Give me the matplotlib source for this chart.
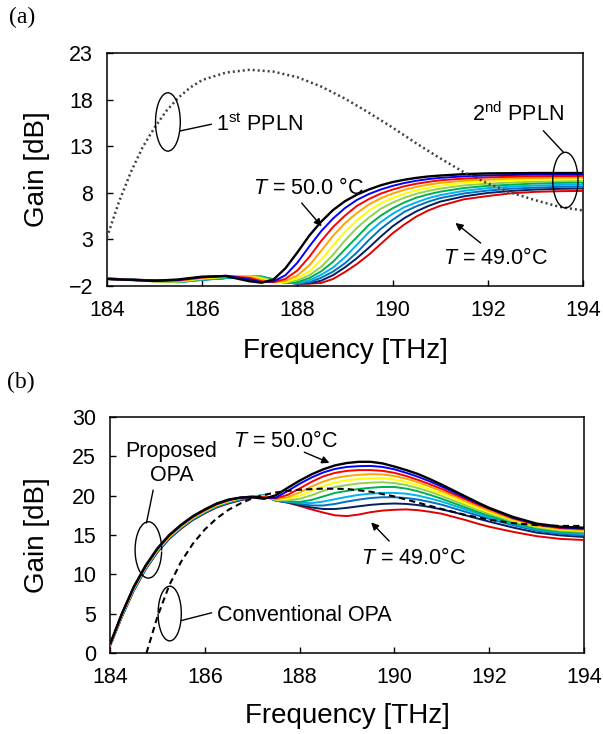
"""
Gain spectra vs temperature: (a) cascaded PPLN stages, (b) proposed vs conventional OPA.
Writes out.png (603 x 734 px).
"""

import matplotlib
matplotlib.use("Agg")
import matplotlib.pyplot as plt
from matplotlib.patches import Ellipse, Arc

plt.rcParams["font.family"] = "Liberation Sans"
plt.rcParams["mathtext.fontset"] = "custom"
plt.rcParams["mathtext.rm"] = "Liberation Sans"
plt.rcParams["mathtext.it"] = "Liberation Sans:italic"
plt.rcParams["axes.unicode_minus"] = True

# ── Data ─────────────────────────────────────────────────────────────────────

TEMPS = [50.0, 49.9, 49.8, 49.7, 49.6, 49.5, 49.4, 49.3, 49.2, 49.1, 49.0]
COLORS = ["#000000", "#0000FF", "#FF0000", "#FFA500", "#FFFF00", "#92D050",
          "#00B050", "#00B0F0", "#0070C0", "#002060", "#E00000"]

# (a) 2nd PPLN gain for each temperature
freq_a = [184, 184.5, 185, 185.5, 186, 186.5, 187, 187.25, 187.5, 187.75,
          188, 188.25, 188.5, 188.75, 189, 189.25, 189.5, 189.75, 190, 190.25,
          190.5, 190.75, 191, 191.5, 192, 192.5, 193, 193.5, 194]
gain_a = [
    [-1.25, -1.35, -1.45, -1.3, -1.0, -0.95, -1.5, -1.65, -1.3, -0.1,
     1.6, 3.4, 4.9, 6.15, 7.1, 7.8, 8.35, 8.8, 9.15, 9.4,
     9.6, 9.75, 9.85, 10.0, 10.08, 10.1, 10.12, 10.12, 10.12],
    [-1.25, -1.35, -1.45, -1.35, -1.05, -0.9, -1.3, -1.6, -1.5, -0.85,
     0.5, 2.24, 3.88, 5.24, 6.36, 7.23, 7.86, 8.35, 8.74, 9.05,
     9.29, 9.47, 9.6, 9.76, 9.86, 9.91, 9.96, 9.97, 9.98],
    [-1.25, -1.35, -1.45, -1.4, -1.1, -0.9, -1.15, -1.5, -1.6, -1.24,
     -0.34, 1.11, 2.83, 4.33, 5.55, 6.59, 7.32, 7.91, 8.34, 8.7,
     8.97, 9.17, 9.34, 9.52, 9.65, 9.72, 9.77, 9.79, 9.8],
    [-1.25, -1.35, -1.5, -1.45, -1.15, -0.95, -1.0, -1.35, -1.6, -1.45,
     -0.87, 0.21, 1.78, 3.39, 4.74, 5.83, 6.74, 7.4, 7.92, 8.32,
     8.63, 8.87, 9.06, 9.29, 9.42, 9.52, 9.58, 9.61, 9.63],
    [-1.25, -1.35, -1.5, -1.5, -1.2, -1.0, -0.95, -1.2, -1.55, -1.6,
     -1.14, -0.44, 0.82, 2.36, 3.82, 5.04, 6.07, 6.87, 7.44, 7.9,
     8.26, 8.53, 8.76, 9.06, 9.2, 9.32, 9.4, 9.43, 9.45],
    [-1.25, -1.35, -1.5, -1.55, -1.25, -1.05, -0.95, -1.1, -1.45, -1.65,
     -1.4, -0.85, 0.05, 1.35, 2.88, 4.23, 5.33, 6.28, 6.94, 7.48,
     7.89, 8.2, 8.45, 8.79, 8.98, 9.1, 9.2, 9.25, 9.28],
    [-1.25, -1.35, -1.5, -1.6, -1.3, -1.1, -0.95, -1.0, -1.35, -1.7,
     -1.6, -1.15, -0.43, 0.6, 1.93, 3.24, 4.55, 5.54, 6.34, 6.97,
     7.48, 7.83, 8.12, 8.51, 8.74, 8.87, 9.0, 9.06, 9.1],
    [-1.25, -1.35, -1.5, -1.6, -1.35, -1.15, -1.0, -1.0, -1.3, -1.65,
     -1.72, -1.4, -0.8, -0.02, 1.09, 2.43, 3.75, 4.85, 5.74, 6.46,
     6.97, 7.42, 7.75, 8.21, 8.5, 8.66, 8.78, 8.84, 8.88],
    [-1.2, -1.3, -1.45, -1.55, -1.35, -1.15, -1.0, -1.0, -1.3, -1.6,
     -1.74, -1.6, -1.12, -0.46, 0.44, 1.59, 2.92, 4.12, 5.1, 5.96,
     6.55, 7.04, 7.43, 7.93, 8.24, 8.44, 8.56, 8.63, 8.67],
    [-1.2, -1.3, -1.4, -1.5, -1.3, -1.15, -1.05, -1.05, -1.3, -1.6,
     -1.75, -1.72, -1.43, -0.84, 0.0, 0.98, 2.1, 3.29, 4.4, 5.29,
     6.01, 6.58, 7.05, 7.62, 7.98, 8.2, 8.35, 8.42, 8.46],
    [-1.2, -1.3, -1.4, -1.5, -1.3, -1.15, -1.1, -1.1, -1.35, -1.6,
     -1.75, -1.75, -1.68, -1.25, -0.5, 0.35, 1.35, 2.5, 3.65, 4.6,
     5.45, 6.1, 6.6, 7.3, 7.65, 7.95, 8.1, 8.17, 8.2],
]

# (a) 1st PPLN gain (dotted)
freq_ppln1 = [184.0, 184.25, 184.5, 184.75, 185.0, 185.25, 185.5, 185.75, 186.0,
              186.5, 187.0, 187.5, 188.0, 188.5, 189.0, 189.5, 190.0, 190.5,
              191.0, 191.5, 192.0, 192.5, 193.0, 193.5, 194.0]
gain_ppln1 = [3.2, 7.0, 10.2, 12.9, 15.0, 16.8, 18.2, 19.3, 20.1,
              20.9, 21.2, 21.0, 20.4, 19.4, 18.1, 16.6, 15.0, 13.3,
              11.7, 10.2, 9.0, 8.0, 7.2, 6.5, 6.1]

# (b) proposed OPA gain for each temperature
freq_b = [184, 184.25, 184.5, 184.75, 185, 185.25, 185.5, 185.75, 186, 186.25,
          186.5, 186.75, 187, 187.25, 187.5, 187.75, 188, 188.25, 188.5, 188.75,
          189, 189.25, 189.5, 189.75, 190, 190.25, 190.5, 190.75, 191, 191.25,
          191.5, 191.75, 192, 192.5, 193, 193.5, 194]
gain_b = [
    [1.1, 5.0, 8.4, 11.1, 13.3, 15.0, 16.3, 17.4, 18.25, 19.0,
     19.5, 19.75, 19.8, 19.6, 20.05, 21.0, 21.9, 22.7, 23.35, 23.85,
     24.15, 24.3, 24.3, 24.1, 23.7, 23.25, 22.75, 22.1, 21.4, 20.65,
     19.9, 19.15, 18.45, 17.3, 16.45, 16.05, 15.92],
    [1.1, 4.95, 8.35, 11.05, 13.25, 14.95, 16.25, 17.35, 18.2, 18.95,
     19.45, 19.75, 19.85, 19.7, 19.75, 20.6, 21.5, 22.3, 22.95, 23.4,
     23.65, 23.75, 23.78, 23.65, 23.35, 22.9, 22.4, 21.8, 21.15, 20.45,
     19.75, 19.05, 18.4, 17.2, 16.38, 15.97, 15.83],
    [1.05, 4.9, 8.3, 11.0, 13.2, 14.9, 16.2, 17.3, 18.15, 18.9,
     19.4, 19.75, 19.9, 19.8, 19.65, 20.1, 20.9, 21.75, 22.45, 22.9,
     23.15, 23.25, 23.25, 23.15, 22.9, 22.5, 22.0, 21.45, 20.85, 20.2,
     19.55, 18.9, 18.3, 17.12, 16.3, 15.88, 15.75],
    [1.05, 4.85, 8.25, 10.95, 13.15, 14.85, 16.15, 17.25, 18.1, 18.85,
     19.35, 19.72, 19.95, 19.85, 19.55, 19.8, 20.4, 21.15, 21.8, 22.25,
     22.5, 22.65, 22.73, 22.7, 22.5, 22.15, 21.7, 21.15, 20.55, 19.95,
     19.3, 18.7, 18.1, 17.0, 16.2, 15.78, 15.62],
    [1.0, 4.8, 8.2, 10.9, 13.1, 14.8, 16.1, 17.2, 18.05, 18.8,
     19.3, 19.7, 19.95, 19.9, 19.5, 19.6, 20.0, 20.6, 21.2, 21.7,
     21.95, 22.12, 22.2, 22.22, 22.05, 21.75, 21.3, 20.8, 20.25, 19.65,
     19.05, 18.45, 17.9, 16.88, 16.1, 15.68, 15.54],
    [1.0, 4.75, 8.15, 10.85, 13.05, 14.75, 16.05, 17.15, 18.0, 18.75,
     19.25, 19.65, 19.95, 19.95, 19.45, 19.4, 19.6, 20.05, 20.6, 21.1,
     21.35, 21.55, 21.65, 21.7, 21.6, 21.35, 20.95, 20.5, 19.95, 19.35,
     18.8, 18.2, 17.7, 16.72, 15.97, 15.56, 15.41],
    [0.95, 4.7, 8.1, 10.8, 13.0, 14.7, 16.0, 17.1, 17.95, 18.7,
     19.2, 19.6, 19.95, 20.0, 19.4, 19.3, 19.2, 19.45, 19.9, 20.35,
     20.6, 20.85, 21.0, 21.1, 21.1, 20.9, 20.55, 20.1, 19.6, 19.05,
     18.5, 17.95, 17.45, 16.55, 15.83, 15.43, 15.28],
    [0.95, 4.7, 8.05, 10.75, 12.95, 14.65, 15.95, 17.05, 17.9, 18.65,
     19.15, 19.55, 19.9, 20.05, 19.35, 19.25, 19.1, 19.05, 19.25, 19.55,
     19.85, 20.1, 20.25, 20.35, 20.35, 20.25, 20.0, 19.65, 19.25, 18.75,
     18.25, 17.75, 17.25, 16.4, 15.7, 15.3, 15.12],
    [0.9, 4.65, 8.0, 10.7, 12.9, 14.6, 15.9, 17.0, 17.85, 18.6,
     19.1, 19.5, 19.85, 20.05, 19.35, 19.2, 18.95, 18.75, 18.75, 18.95,
     19.25, 19.5, 19.7, 19.8, 19.8, 19.7, 19.5, 19.2, 18.85, 18.4,
     17.95, 17.5, 17.05, 16.25, 15.55, 15.15, 14.95],
    [0.9, 4.6, 7.95, 10.65, 12.85, 14.55, 15.85, 16.95, 17.8, 18.55,
     19.05, 19.45, 19.8, 20.0, 19.35, 19.15, 18.8, 18.5, 18.3, 18.3,
     18.45, 18.65, 18.83, 18.95, 19.0, 18.95, 18.8, 18.55, 18.25, 17.9,
     17.5, 17.1, 16.7, 15.95, 15.3, 14.95, 14.74],
    [0.85, 4.55, 7.9, 10.6, 12.8, 14.5, 15.8, 16.9, 17.75, 18.5,
     19.0, 19.4, 19.75, 19.95, 19.4, 19.1, 18.7, 18.25, 17.85, 17.5,
     17.4, 17.6, 17.9, 18.1, 18.2, 18.25, 18.15, 17.95, 17.7, 17.3,
     16.9, 16.45, 16.05, 15.4, 14.85, 14.5, 14.36],
]

# (b) conventional OPA gain (dashed)
freq_conv = [184.77, 185.0, 185.25, 185.5, 185.75, 186.0, 186.25, 186.5, 186.75,
             187.0, 187.25, 187.5, 187.75, 188.0, 188.5, 189.0, 189.5, 190.0,
             190.5, 191.0, 191.5, 192.0, 192.5, 193.0, 193.5, 194.0]
gain_conv = [0.0, 4.6, 8.6, 11.6, 13.9, 15.7, 17.1, 18.2, 19.0,
             19.65, 20.1, 20.4, 20.6, 20.75, 20.9, 20.85, 20.5, 19.9,
             19.1, 18.3, 17.55, 16.95, 16.5, 16.25, 16.15, 16.15]

XTICKS = [184, 186, 188, 190, 192, 194]
YTICKS_A = [-2, 3, 8, 13, 18, 23]
YTICKS_B = [0, 5, 10, 15, 20, 25, 30]

ANN_SIZE = 15.5


# ── Helpers ──────────────────────────────────────────────────────────────────

def style_axes(ax, yticks):
    ax.set_xlim(184, 194)
    ax.set_ylim(yticks[0], yticks[-1])
    ax.set_xticks(XTICKS)
    ax.set_yticks(yticks)
    ax.tick_params(direction="in", length=4, width=1.0, labelsize=15.5, pad=10,
                   top=False, right=False)
    for sp in ax.spines.values():
        sp.set_linewidth(1.1)
    ax.set_xlabel("Frequency [THz]", fontsize=20)
    ax.set_ylabel("Gain [dB]", fontsize=20)


def draw_family(ax, freq, rows):
    # black (50.0 °C) ends up on top
    for k in range(len(rows) - 1, -1, -1):
        ax.plot(freq, rows[k], color=COLORS[k], lw=1.7 if k == 0 else 1.4,
                zorder=3 + (len(rows) - k) * 0.01, solid_capstyle="butt")


def arrow(ax, head, tail):
    ax.annotate("", xy=head, xytext=tail,
                arrowprops=dict(arrowstyle="-|>", color="k", lw=1.0,
                                mutation_scale=11, shrinkA=0, shrinkB=0))


def leader(ax, p0, p1):
    ax.plot([p0[0], p1[0]], [p0[1], p1[1]], color="k", lw=1.0)


# ── Figure ───────────────────────────────────────────────────────────────────

fig = plt.figure(figsize=(6.03, 7.34), dpi=100)
ax_a = fig.add_axes([0.1774, 0.6104, 0.7894, 0.3174])
ax_b = fig.add_axes([0.1824, 0.1104, 0.786, 0.3215])

# (a)
ax_a.plot(freq_ppln1, gain_ppln1, color="#404040", lw=1.8, ls=(0, (0.8, 1.2)), zorder=4)
draw_family(ax_a, freq_a, gain_a)
style_axes(ax_a, YTICKS_A)
ax_a.xaxis.set_label_coords(0.5, -0.225)
ax_a.yaxis.set_label_coords(-0.12, 0.5)

ax_a.add_patch(Ellipse((185.28, 15.6), 0.52, 6.26, fill=False, lw=1.0, zorder=5))
leader(ax_a, (185.54, 14.64), (186.19, 15.35))
ax_a.text(186.3, 15.3, r"1$^{\mathrm{st}}$ PPLN", fontsize=ANN_SIZE, ha="left", va="center")

ax_a.add_patch(Ellipse((193.63, 9.36), 0.53, 5.97, fill=False, lw=1.0, zorder=5))
leader(ax_a, (193.59, 12.34), (193.17, 14.64))
ax_a.text(192.63, 16.4, r"2$^{\mathrm{nd}}$ PPLN", fontsize=ANN_SIZE, ha="center", va="center")

ax_a.text(188.23, 8.5, r"$T$ = 50.0 °C", fontsize=ANN_SIZE, ha="center", va="center")
arrow(ax_a, (188.51, 4.4), (188.09, 6.9))
ax_a.text(192.16, 1.0, r"$T$ = 49.0°C", fontsize=ANN_SIZE, ha="center", va="center")
arrow(ax_a, (191.32, 4.76), (191.85, 2.61))

# (b)
draw_family(ax_b, freq_b, gain_b)
ax_b.plot(freq_conv, gain_conv, color="k", lw=1.5, ls=(0, (3, 2)), zorder=4)
style_axes(ax_b, YTICKS_B)
ax_b.xaxis.set_label_coords(0.5, -0.21)
ax_b.yaxis.set_label_coords(-0.127, 0.5)

ax_b.add_patch(Arc((184.81, 13.1), 0.56, 7.16, theta1=-15, theta2=325, lw=1.0, zorder=5))
leader(ax_b, (184.91, 20.67), (184.77, 16.55))
ax_b.text(185.3, 24.1, "Proposed\nOPA", fontsize=ANN_SIZE, ha="center", va="center",
          linespacing=1.2)

ax_b.add_patch(Arc((185.26, 5.01), 0.49, 6.95, theta1=175, theta2=510, lw=1.0, zorder=5))
leader(ax_b, (185.51, 4.13), (186.14, 5.1))
ax_b.text(186.26, 4.8, "Conventional OPA", fontsize=ANN_SIZE, ha="left", va="center")

ax_b.text(187.7, 26.86, r"$T$ = 50.0°C", fontsize=ANN_SIZE, ha="center", va="center")
arrow(ax_b, (188.63, 24.17), (188.1, 25.52))
ax_b.text(190.4, 12.04, r"$T$ = 49.0°C", fontsize=ANN_SIZE, ha="center", va="center")
arrow(ax_b, (189.51, 16.6), (189.89, 14.23))

fig.text(9 / 603, 1 - 17 / 734, "(a)", family="Liberation Serif", fontsize=17,
         ha="left", va="center")
fig.text(7 / 603, 1 - 382 / 734, "(b)", family="Liberation Serif", fontsize=17,
         ha="left", va="center")

fig.savefig("out.png", dpi=100)
plt.close(fig)
